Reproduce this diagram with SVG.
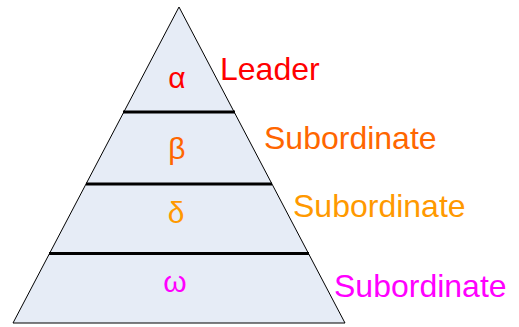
<svg xmlns="http://www.w3.org/2000/svg" width="519" height="327" viewBox="0 0 519 327">
<style>
text{font-family:"Liberation Sans",Arial,sans-serif}
.g{font-size:30px;text-anchor:middle}
.l{font-size:32px}
.sep{stroke:#000;stroke-width:3}
</style>
<rect width="519" height="327" fill="#fff"/>
<g id="pyramid">
<polygon points="179,7 13,323 345,323" fill="#E6ECF6" stroke="#000" stroke-width="1"/>
</g>
<g id="separators">
<line class="sep" x1="123" y1="112" x2="235" y2="112"/>
<line class="sep" x1="86" y1="184" x2="272" y2="184"/>
<line class="sep" x1="49" y1="253.5" x2="309" y2="253.5"/>
</g>
<g id="level-alpha"><text class="g" x="177" y="88" fill="#FF0000">α</text></g>
<g id="level-beta"><text class="g" x="177" y="159" fill="#FF6600">β</text></g>
<g id="level-delta"><text class="g" x="176" y="223" fill="#FF9900">δ</text></g>
<g id="level-omega"><text class="g" x="175" y="292" fill="#FF00FF">ω</text></g>
<g id="label-leader"><text class="l" x="220" y="80" fill="#FF0000">Leader</text></g>
<g id="label-sub1"><text class="l" x="264" y="149" fill="#FF6600">Subordinate</text></g>
<g id="label-sub2"><text class="l" x="293" y="217" fill="#FF9900">Subordinate</text></g>
<g id="label-sub3"><text class="l" x="334" y="297" fill="#FF00FF">Subordinate</text></g>
</svg>
